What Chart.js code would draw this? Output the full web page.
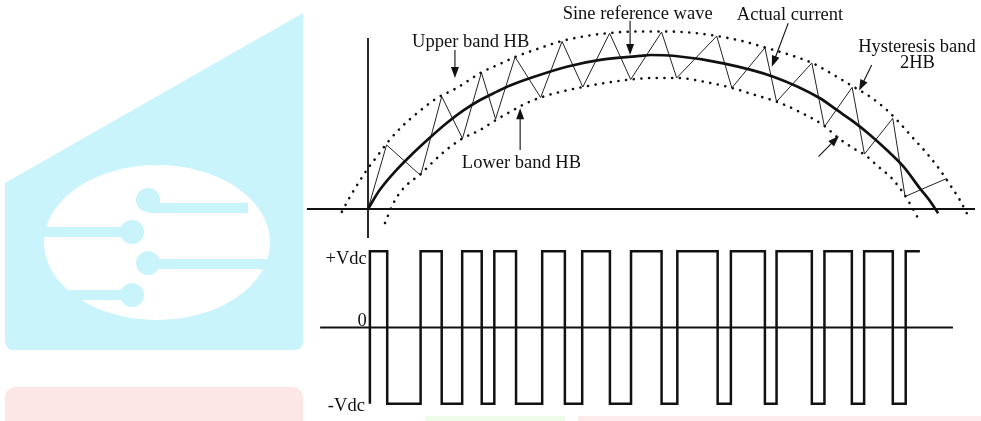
<!DOCTYPE html>
<html>
<head>
<meta charset="utf-8">
<title>Hysteresis current control</title>
<script src="https://cdn.jsdelivr.net/npm/chart.js@4.4.1/dist/chart.umd.min.js"></script>
<style>
  body { margin: 0; width: 981px; height: 421px; position: relative; overflow: hidden; background: #fff; }
  .wm { position: absolute; }
  .dot { position: absolute; width: 24px; height: 24px; border-radius: 50%; background: #c9f4fb; }
  .bar { position: absolute; height: 10px; background: #c9f4fb; }
  canvas { position: absolute; }
</style>
</head>
<body>
<!-- faint logo watermark behind the figure -->
<div class="wm" style="left:5px;top:13px;width:298px;height:337px;background:#c9f4fb;border-radius:0 0 8px 8px;clip-path:polygon(100% 0,100% 100%,0 100%,0 170px)"></div>
<div class="wm" style="left:44px;top:165px;width:226px;height:155px;border-radius:50%;background:#fff"></div>
<div class="bar" style="left:148px;top:203px;width:100px"></div>
<div class="bar" style="left:40px;top:227px;width:92px"></div>
<div class="bar" style="left:148px;top:259px;width:125px"></div>
<div class="bar" style="left:40px;top:290px;width:92px"></div>
<div class="dot" style="left:136px;top:188px"></div>
<div class="dot" style="left:120px;top:220px"></div>
<div class="dot" style="left:136px;top:251px"></div>
<div class="dot" style="left:120px;top:283px"></div>
<div class="wm" style="left:5px;top:387px;width:298px;height:44px;border-radius:10px;background:#fde6e6"></div>
<div class="wm" style="left:425px;top:416px;width:140px;height:5px;background:#effbe9"></div>
<div class="wm" style="left:578px;top:416px;width:403px;height:5px;background:#fdeaea"></div>

<canvas id="currentChart" width="681" height="245" style="left:300px;top:0"></canvas>
<canvas id="voltageChart" width="681" height="189" style="left:300px;top:232px"></canvas>

<script>
// wt in degrees over the positive half cycle, currents in pu of the reference peak
const sineAngle = [0, 3.7, 9.0, 14.3, 19.7, 25.0, 30.3, 35.6, 40.9, 45.1, 52.5, 63.1, 73.7, 86.3, 89.8, 96.9, 112.8, 128.7, 143.5, 148.8, 154.1, 159.4, 164.7, 170.0, 175.2, 178.4, 181.0]
const sineCurrent = [0, 0.123, 0.253, 0.362, 0.464, 0.558, 0.64, 0.708, 0.762, 0.802, 0.857, 0.924, 0.968, 0.994, 1.0, 0.995, 0.946, 0.859, 0.719, 0.643, 0.567, 0.481, 0.383, 0.275, 0.134, 0.052, -0.028]

const upperAngle = [-8.3, -5.7, -3.1, -0.4, 2.8, 6.4, 10.7, 15.5, 21.8, 28.2, 35.9, 41.9, 46.7, 54.6, 61.6, 69.2, 76.8, 86.3, 93.3, 102.2, 110.8, 118.7, 126.0, 134.0, 141.0, 148.8, 154.1, 159.4, 164.7, 168.9, 173.1, 177.4, 181.6, 184.8, 187.9, 190.1]
const upperCurrent = [-0.018, 0.08, 0.167, 0.253, 0.34, 0.437, 0.534, 0.621, 0.719, 0.786, 0.886, 0.942, 0.987, 1.045, 1.091, 1.123, 1.143, 1.153, 1.153, 1.146, 1.123, 1.091, 1.049, 1.0, 0.948, 0.859, 0.794, 0.729, 0.643, 0.556, 0.459, 0.362, 0.253, 0.156, 0.058, -0.028]

const lowerAngle = [5.4, 7.5, 9.6, 12.3, 16.7, 20.6, 24.8, 30.0, 35.6, 40.6, 45.1, 49.8, 54.8, 61.0, 68.2, 75.2, 83.4, 91.1, 98.0, 107.0, 115.5, 122.9, 129.7, 137.1, 144.9, 148.8, 154.1, 157.8, 162.0, 166.3, 170.0, 172.6, 175.2]
const lowerCurrent = [-0.091, 0.013, 0.091, 0.156, 0.227, 0.305, 0.383, 0.458, 0.513, 0.578, 0.63, 0.682, 0.724, 0.76, 0.792, 0.818, 0.841, 0.851, 0.851, 0.825, 0.786, 0.74, 0.697, 0.63, 0.539, 0.469, 0.394, 0.351, 0.275, 0.199, 0.102, 0.015, -0.082]

const actualAngle = [0, 5.9, 16.7, 23.4, 30.0, 36.0, 40.5, 46.7, 54.8, 61.6, 68.2, 76.7, 83.4, 93.2, 98.0, 110.7, 115.5, 126.0, 129.7, 140.9, 144.9, 153.7, 157.6, 166.6, 170.5, 183.7]
const actualCurrent = [0, 0.416, 0.218, 0.731, 0.458, 0.886, 0.584, 0.987, 0.724, 1.088, 0.792, 1.141, 0.841, 1.149, 0.851, 1.123, 0.786, 1.047, 0.697, 0.948, 0.534, 0.79, 0.357, 0.589, 0.081, 0.198]

// inverter output: level held after each switching instant
const switchAngle = [0.6, 0.6, 6.1, 16.7, 23.4, 29.9, 36.1, 40.1, 47.0, 55.3, 62.5, 68.0, 76.8, 83.5, 93.2, 98.2, 111.0, 115.2, 126.0, 129.7, 140.9, 144.9, 153.6, 157.5, 166.6, 170.7, 175.2]
const inverterVoltage = [-1, 1, -1, 1, -1, 1, -1, 1, -1, 1, -1, 1, -1, 1, -1, 1, -1, 1, -1, 1, -1, 1, -1, 1, -1, 1, 1]

const voltageTickLabels = ['+Vdc', '0', '-Vdc']
const voltageTickValues = [1, 0, -1]

const ink = '#111'
const serif = '18.5px "Liberation Serif", "Times New Roman", serif'

function points(xs, ys) {
  return xs.map((x, i) => ({ x: x, y: ys[i] }))
}

// text and arrow callouts, placed in data coordinates
const notes = {
  id: 'notes',
  afterDatasetsDraw(chart, args, opts) {
    const ctx = chart.ctx
    const sx = chart.scales.x
    const sy = chart.scales.y
    ctx.save()
    ctx.fillStyle = ink
    ctx.strokeStyle = ink
    ctx.lineWidth = 1.1
    ;(opts.arrows || []).forEach((a) => {
      const x0 = sx.getPixelForValue(a.from[0])
      const y0 = sy.getPixelForValue(a.from[1])
      const x1 = sx.getPixelForValue(a.to[0])
      const y1 = sy.getPixelForValue(a.to[1])
      const ang = Math.atan2(y1 - y0, x1 - x0)
      const c = Math.cos(ang)
      const s = Math.sin(ang)
      ctx.beginPath()
      ctx.moveTo(x0, y0)
      ctx.lineTo(x1 - c * 8, y1 - s * 8)
      ctx.stroke()
      ctx.beginPath()
      ctx.moveTo(x1, y1)
      ctx.lineTo(x1 - c * 11 + s * 4, y1 - s * 11 - c * 4)
      ctx.lineTo(x1 - c * 11 - s * 4, y1 - s * 11 + c * 4)
      ctx.closePath()
      ctx.fill()
    })
    ctx.font = serif
    ctx.textBaseline = 'alphabetic'
    ;(opts.labels || []).forEach((l) => {
      ctx.textAlign = l.align || 'left'
      ctx.fillText(l.text, sx.getPixelForValue(l.x), sy.getPixelForValue(l.y))
    })
    ctx.restore()
  },
}

function lineSet(data, extra) {
  return Object.assign(
    {
      data: data,
      borderColor: ink,
      borderWidth: 1,
      pointRadius: 0,
      fill: false,
      clip: false,
    },
    extra
  )
}

function options(yMin, yMax, noteOpts) {
  return {
    responsive: false,
    animation: false,
    events: [],
    layout: { padding: 0 },
    plugins: {
      legend: { display: false },
      tooltip: { enabled: false },
      notes: noteOpts,
    },
    scales: {
      x: { type: 'linear', min: -21.587, max: 194.603, display: false },
      y: { type: 'linear', min: yMin, max: yMax, display: false },
    },
  }
}

new Chart(document.getElementById('currentChart'), {
  type: 'line',
  data: {
    datasets: [
      lineSet([{ x: -19.4, y: 0 }, { x: 192.7, y: 0 }], { borderWidth: 1.8 }),
      lineSet([{ x: 0, y: -0.188 }, { x: 0, y: 1.11 }], { borderWidth: 1.8 }),
      lineSet(points(upperAngle, upperCurrent), {
        borderWidth: 2.6,
        borderDash: [0.1, 7.6],
        borderCapStyle: 'round',
        cubicInterpolationMode: 'monotone',
      }),
      lineSet(points(lowerAngle, lowerCurrent), {
        borderWidth: 2.6,
        borderDash: [0.1, 7.6],
        borderCapStyle: 'round',
        cubicInterpolationMode: 'monotone',
      }),
      lineSet(points(sineAngle, sineCurrent), {
        borderWidth: 2.7,
        cubicInterpolationMode: 'monotone',
      }),
      lineSet(points(actualAngle, actualCurrent), { borderWidth: 1, borderColor: '#222' }),
    ],
  },
  options: options(-0.2338, 1.3571, {
    labels: [
      { text: 'Sine reference wave', x: 61.8, y: 1.234 },
      { text: 'Actual current', x: 117.1, y: 1.224 },
      { text: 'Upper band HB', x: 14.0, y: 1.049 },
      { text: 'Hysteresis band', x: 155.6, y: 1.021 },
      { text: '2HB', x: 174.4, y: 0.916, align: 'center' },
      { text: 'Lower band HB', x: 29.8, y: 0.266 },
    ],
    arrows: [
      { from: [27.6, 1.032], to: [27.6, 0.851] },
      { from: [83.2, 1.223], to: [83.2, 1.0] },
      { from: [133.4, 1.206], to: [128.2, 0.924] },
      { from: [159.9, 0.935], to: [155.9, 0.769] },
      { from: [143.0, 0.34], to: [149.5, 0.474] },
      { from: [48.3, 0.383], to: [48.3, 0.654] },
    ],
  }),
  plugins: [notes],
})

new Chart(document.getElementById('voltageChart'), {
  type: 'line',
  data: {
    datasets: [
      lineSet([{ x: -15.2, y: 0 }, { x: 185.7, y: 0 }], { borderWidth: 1.8 }),
      lineSet(points(switchAngle, inverterVoltage), {
        borderWidth: 2.5,
        stepped: true,
      }),
    ],
  },
  options: options(-1.2254, 1.2516, {
    labels: [
      { text: voltageTickLabels[0], x: -0.4, y: voltageTickValues[0] - 0.168, align: 'right' },
      { text: voltageTickLabels[1], x: -0.4, y: voltageTickValues[1] + 0.026, align: 'right' },
      { text: voltageTickLabels[2], x: -1.0, y: voltageTickValues[2] - 0.094, align: 'right' },
    ],
  }),
  plugins: [notes],
})
</script>
</body>
</html>
